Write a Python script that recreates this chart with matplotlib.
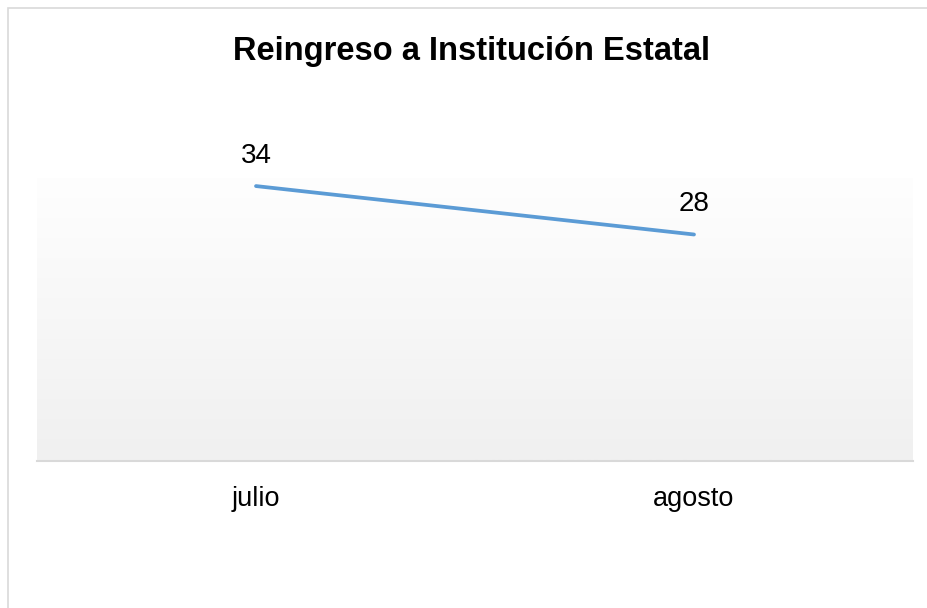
import numpy as np
import matplotlib
matplotlib.use('Agg')
from matplotlib import pyplot as plt
from matplotlib.patches import Rectangle

plt.rcParams['font.family'] = ['Liberation Sans', 'DejaVu Sans']

TITLE = 'Reingreso a Institución Estatal'
months = ['julio', 'agosto']
values = [34, 28]

W, H = 928, 608
fig = plt.figure(figsize=(W / 100, H / 100), dpi=100)

# outer chart frame (right/bottom edges fall outside the image)
fig.patches.append(Rectangle((8 / W, -0.1), 1.1, 1 - 8 / H + 0.1,
                             transform=fig.transFigure, fill=False,
                             edgecolor='#d9d9d9', lw=1.2))

ax = fig.add_axes([37 / W, 1 - 460.5 / H, 876 / W, 282.5 / H])
ax.set_xlim(-0.5, len(months) - 0.5)
ax.set_ylim(0, 35)

# vertical gradient fill of the plot area
grad = np.linspace(0, 1, 256).reshape(-1, 1)
cmap = matplotlib.colors.LinearSegmentedColormap.from_list('g', ['#f0f0f0', '#fefefe'])
ax.imshow(grad, aspect='auto', cmap=cmap, origin='lower',
          extent=(-0.5, len(months) - 0.5, 0, 35), zorder=0)

x = np.arange(len(months))
ax.plot(x, values, color='#5b9bd5', lw=2.7, solid_capstyle='round', zorder=3)
for xi, v in zip(x, values):
    ax.annotate(str(v), (xi, v), xytext=(0, 12.5), textcoords='offset points',
                ha='center', va='bottom', fontsize=20, color='#000000')

for s in ('top', 'left', 'right'):
    ax.spines[s].set_visible(False)
ax.spines['bottom'].set_color('#d9d9d9')
ax.spines['bottom'].set_linewidth(1.5)
ax.set_yticks([])
ax.set_xticks(x)
ax.set_xticklabels(months, fontsize=19.5)
ax.tick_params(axis='x', length=0, pad=18.5)

fig.text(472 / W, 1 - 60 / H, TITLE, ha='center', va='baseline',
         fontsize=23.5, fontweight='bold')

plt.savefig('out.png', dpi=100)
plt.close()
